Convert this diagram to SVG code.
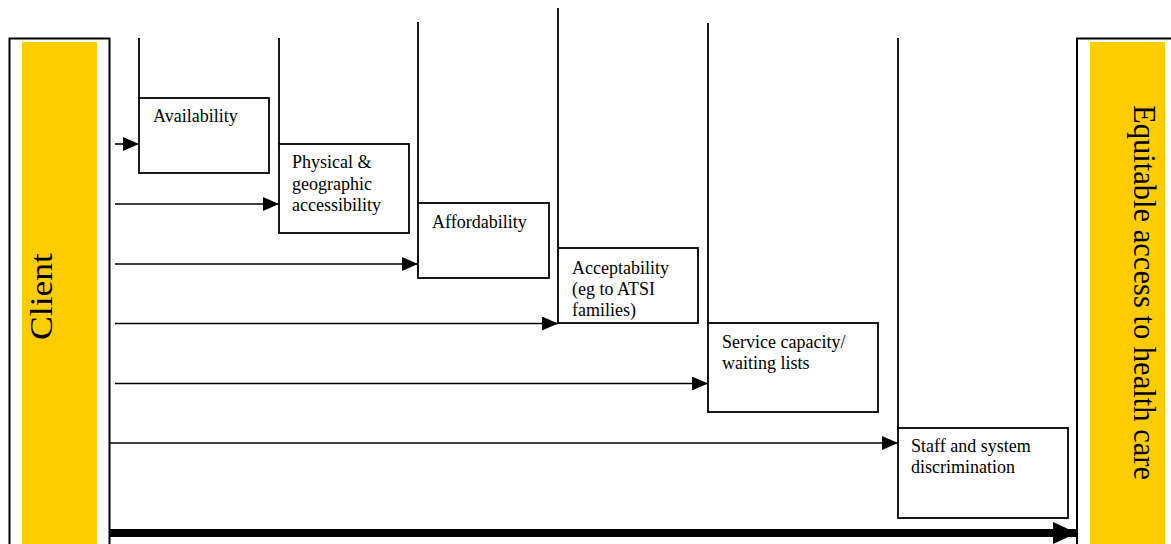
<svg xmlns="http://www.w3.org/2000/svg" width="1171" height="544" viewBox="0 0 1171 544">
<style>
.frame{fill:#fff;stroke:#000;stroke-width:2}
.band{fill:#FFCC00}
.box{fill:#fff;stroke:#000;stroke-width:1.8}
.post{stroke:#000;stroke-width:1.8;fill:none}
.lbl{font-family:"Liberation Serif","Times New Roman",serif;font-size:18px;fill:#000}
.big{font-family:"Liberation Serif","Times New Roman",serif;font-size:31px;fill:#000}
.arr{stroke:#000;stroke-width:1.6;fill:none;marker-end:url(#ah)}
.thick{stroke:#000;stroke-width:8;fill:none;marker-end:url(#ahb)}
</style>
<defs>
<marker id="ah" markerUnits="userSpaceOnUse" markerWidth="16" markerHeight="14" refX="16" refY="7" orient="auto" viewBox="0 0 16 14">
<path d="M0,0 L16,7 L0,14 z" fill="#000"/>
</marker>
<marker id="ahb" markerUnits="userSpaceOnUse" markerWidth="24" markerHeight="22" refX="24" refY="11" orient="auto" viewBox="0 0 24 22">
<path d="M0,0 L24,11 L0,22 z" fill="#000"/>
</marker>
</defs>
<rect width="1171" height="544" fill="#fff"/>
<g id="client">
<rect class="frame" x="9.5" y="38.5" width="100" height="520"/>
<rect class="band" x="22" y="42" width="75" height="510"/>
<text class="big" transform="translate(52,296.5) rotate(-90)" text-anchor="middle" textLength="87" lengthAdjust="spacingAndGlyphs">Client</text>
</g>
<g id="outcome">
<rect class="frame" x="1077" y="38.5" width="110" height="520"/>
<rect class="band" x="1090" y="42" width="75" height="510"/>
<text class="big" transform="translate(1134,292.5) rotate(90)" text-anchor="middle" textLength="375" lengthAdjust="spacingAndGlyphs">Equitable access to health care</text>
</g>
<g id="availability">
<line class="post" x1="139" y1="38" x2="139" y2="98"/>
<rect class="box" x="139" y="98" width="130" height="75"/>
<text class="lbl" x="153" y="122">Availability</text>
</g>
<g id="physical">
<line class="post" x1="279" y1="38" x2="279" y2="144"/>
<rect class="box" x="279" y="144" width="130" height="89"/>
<text class="lbl" x="292" y="168">Physical &amp;<tspan x="292" dy="21.5">geographic</tspan><tspan x="292" dy="21.5">accessibility</tspan></text>
</g>
<g id="affordability">
<line class="post" x1="418" y1="22" x2="418" y2="203"/>
<rect class="box" x="418" y="203" width="131" height="75"/>
<text class="lbl" x="432" y="228">Affordability</text>
</g>
<g id="acceptability">
<line class="post" x1="558" y1="8" x2="558" y2="248"/>
<rect class="box" x="558" y="248" width="140" height="75"/>
<text class="lbl" x="572" y="273.5">Acceptability<tspan x="572" dy="21">(eg to ATSI</tspan><tspan x="572" dy="21">families)</tspan></text>
</g>
<g id="capacity">
<line class="post" x1="708" y1="23" x2="708" y2="323"/>
<rect class="box" x="708" y="323" width="170" height="89"/>
<text class="lbl" x="722" y="348">Service capacity/<tspan x="722" dy="21">waiting lists</tspan></text>
</g>
<g id="discrimination">
<line class="post" x1="898" y1="38" x2="898" y2="428"/>
<rect class="box" x="898" y="428" width="170" height="90"/>
<text class="lbl" x="911" y="452">Staff and system<tspan x="911" dy="21">discrimination</tspan></text>
</g>
<g id="connectors">
<line class="arr" x1="115" y1="144" x2="139" y2="144"/>
<line class="arr" x1="115" y1="204" x2="279" y2="204"/>
<line class="arr" x1="115" y1="264" x2="418" y2="264"/>
<line class="arr" x1="115" y1="323.5" x2="558" y2="323.5"/>
<line class="arr" x1="115" y1="383.5" x2="708" y2="383.5"/>
<line class="arr" x1="109" y1="443" x2="898" y2="443"/>
<line class="thick" x1="109" y1="533" x2="1077" y2="533"/>
</g>
</svg>
